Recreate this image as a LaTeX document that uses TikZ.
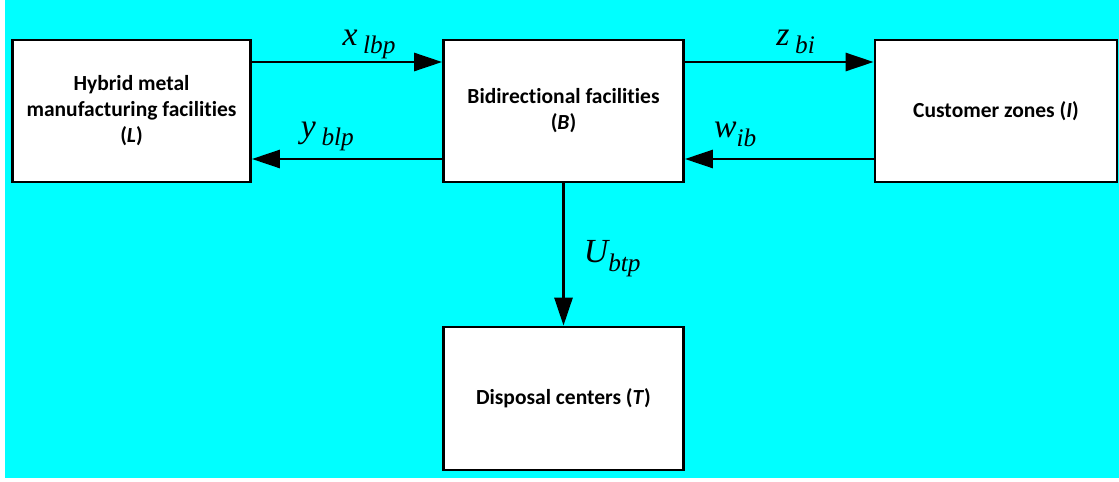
\documentclass[tikz,border=0pt]{standalone}
\usepackage{fontspec}
\setmainfont{Liberation Serif}
\newfontfamily\calfont[Ligatures=NoCommon]{Carlito}
\usepackage{tikz}
\usetikzlibrary{arrows.meta, positioning, calc}
\definecolor{bgcyan}{RGB}{0,255,255}
\newcommand{\flowvar}[2]{{\fontsize{24}{24}\selectfont\itshape #1\raisebox{-6pt}{\fontsize{18}{18}\selectfont #2}}}
\tikzset{
    % Facility boxes
    facbox/.style={rectangle, draw=black, line width=2pt, fill=white,
                minimum width=6cm, minimum height=3.55cm, align=center,
                font=\calfont\bfseries\fontsize{15.3}{18.5}\selectfont},
    % Flows between facilities
    flowarrow/.style={-{Triangle[length=7mm, width=4.5mm]}, line width=2pt, black},
    flowlbl/.style={inner sep=0pt, anchor=base},
}

\begin{document}
\begin{tikzpicture}
% Background
\useasboundingbox (0,0) rectangle (27.975,12.025);
\fill[white] (0,0) rectangle (27.975,12.025);
\fill[bgcyan] (0.125,0.075) rectangle (27.975,12.025);

% Boxes
\node[facbox, minimum width=5.95cm] (L) at (3.2875,9.25) {Hybrid metal\\manufacturing facilities\\(\textit{L})};
\node[facbox] (B) at (14.0875,9.25) {Bidirectional facilities\\(\textit{B})};
\node[facbox, minimum width=6.05cm] (I) at (24.9,9.25) {Customer zones (\textit{I})};
\node[facbox, minimum height=3.575cm] (T) at (14.0875,2.0625) {Disposal centers (\textit{T})};

% Arrows
\draw[flowarrow] ([yshift=1.225cm]L.east) -- node[flowlbl, xshift=0.55cm, yshift=0.425cm] {\flowvar{x\,}{lbp}} ([yshift=1.225cm]B.west);
\draw[flowarrow] ([yshift=-1.2cm]B.west) -- node[flowlbl, xshift=-0.49cm, yshift=0.54cm] {\flowvar{y\,}{blp}} ([yshift=-1.2cm]L.east);
\draw[flowarrow] ([yshift=1.225cm]B.east) -- node[flowlbl, xshift=0.41cm, yshift=0.425cm] {\flowvar{z\,}{bi}} ([yshift=1.225cm]I.west);
\draw[flowarrow] ([yshift=-1.2cm]I.west) -- node[flowlbl, xshift=-1.1cm, yshift=0.53cm] {\flowvar{w}{ib}} ([yshift=-1.2cm]B.east);
\draw[flowarrow] (B.south) -- node[flowlbl, anchor=base west, xshift=0.475cm, yshift=-0.21cm] {\flowvar{U}{btp}} (T.north);

\end{tikzpicture}
\end{document}
